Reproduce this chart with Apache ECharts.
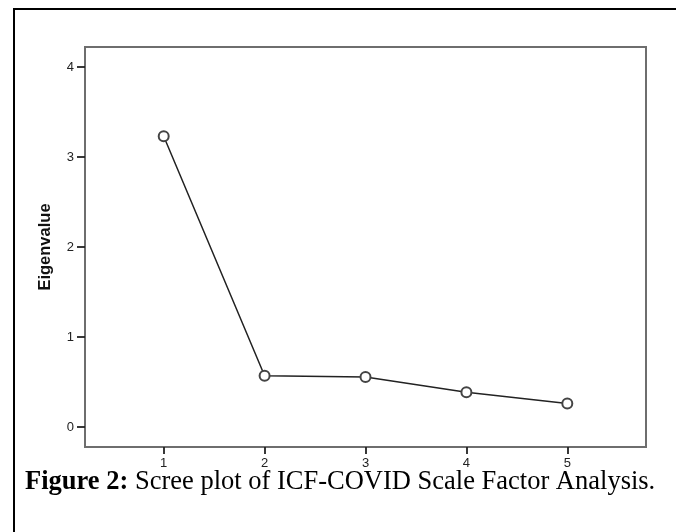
<!DOCTYPE html>
<html>
<head>
<meta charset="utf-8">
<script src="https://cdn.jsdelivr.net/npm/echarts@6/dist/echarts.min.js"></script>
<style>
html,body{margin:0;padding:0;background:#fff;}
#chart{width:676px;height:532px;}
</style>
</head>
<body>
<div id="chart"></div>
<script>
// Data
const components = [1, 2, 3, 4, 5];
const eigenvalues = [3.23, 0.57, 0.555, 0.385, 0.26];
const xTicks = [1, 2, 3, 4, 5];
const yTicks = [0, 1, 2, 3, 4];
const yAxisName = 'Eigenvalue';
const captionBold = 'Figure 2:';
const captionText = ' Scree plot of ICF-COVID Scale Factor Analysis.';

const chart = echarts.init(document.getElementById('chart'), null, {renderer: 'canvas'});
const seriesData = components.map((c, i) => [c, eigenvalues[i]]);

chart.setOption({
  animation: false,
  backgroundColor: '#fff',
  grid: {
    left: 85, top: 47, width: 561, height: 400,
    show: true, borderColor: '#6e6e6e', borderWidth: 2, backgroundColor: 'transparent'
  },
  xAxis: {
    type: 'value', min: 0.22, max: 5.78,
    axisLine: {show: false, onZero: false},
    splitLine: {show: false},
    axisTick: {show: true, length: 7, lineStyle: {color: '#222', width: 1.8}, customValues: xTicks},
    axisLabel: {customValues: xTicks, margin: 10, fontSize: 13, color: '#222', fontFamily: 'Liberation Sans, Arial, sans-serif'}
  },
  yAxis: {
    type: 'value', min: -0.222, max: 4.222,
    name: yAxisName, nameLocation: 'middle', nameGap: 31,
    nameTextStyle: {fontSize: 16.5, fontWeight: 'bold', color: '#111', fontFamily: 'Liberation Sans, Arial, sans-serif'},
    axisLine: {show: false, onZero: false},
    splitLine: {show: false},
    axisTick: {show: true, length: 8, lineStyle: {color: '#222', width: 1.8}, customValues: yTicks},
    axisLabel: {customValues: yTicks, margin: 11, fontSize: 13, color: '#222', fontFamily: 'Liberation Sans, Arial, sans-serif'}
  },
  series: [{
    type: 'line',
    data: seriesData,
    symbol: 'emptyCircle',
    symbolSize: 10,
    lineStyle: {color: '#222', width: 1.5},
    itemStyle: {color: '#444', borderWidth: 1.3},
    z: 3
  }],
  graphic: [
    {type: 'rect', shape: {x: 14, y: 9, width: 700, height: 600}, style: {fill: 'none', stroke: '#000', lineWidth: 2}, silent: true},
    {type: 'text', left: 25, top: 469,
     style: {
       text: '{b|' + captionBold + '}{n|' + captionText + '}',
       rich: {
         b: {fontFamily: 'Liberation Serif, Times New Roman, serif', fontWeight: 'bold', fontSize: 26.5, fill: '#000'},
         n: {fontFamily: 'Liberation Serif, Times New Roman, serif', fontSize: 26.5, fill: '#000'}
       }
     }}
  ]
});
</script>
</body>
</html>
